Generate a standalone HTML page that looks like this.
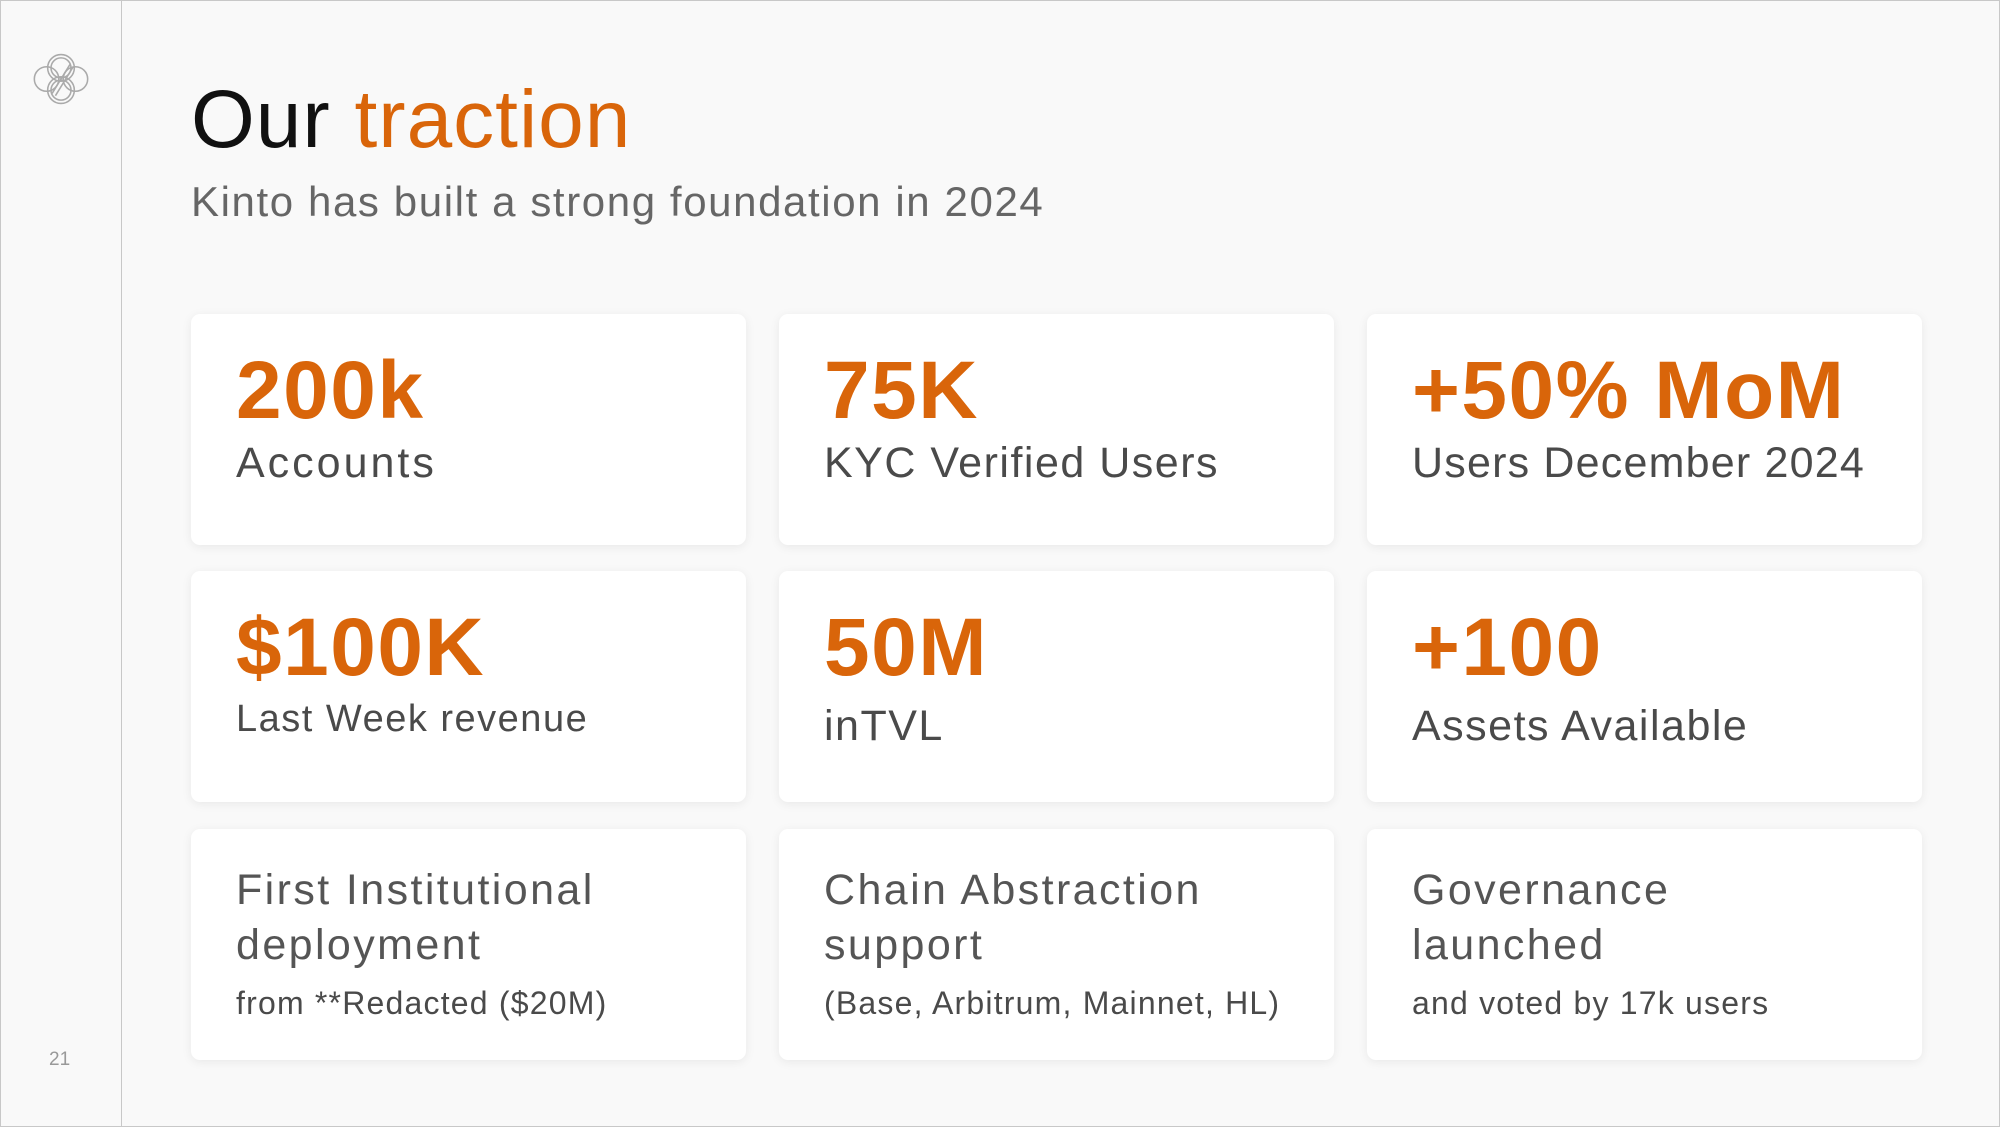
<!DOCTYPE html>
<html><head><meta charset="utf-8"><style>
html,body{margin:0;padding:0}
body{width:2000px;height:1127px;background:#f9f9f9;position:relative;overflow:hidden;font-family:"Liberation Sans",sans-serif}
.frame{position:absolute;left:0;top:0;width:1998px;height:1125px;border:1px solid #c8c8c8}
.side{position:absolute;left:121px;top:0;width:1px;height:1127px;background:#c8c8c8}
.pn{position:absolute;left:49px;top:1049px;font-size:19px;color:#999}
.title{position:absolute;left:191px;top:73px;font-size:82px;color:#111;white-space:nowrap;letter-spacing:1px}
.title span{color:#d9650a}
.sub{position:absolute;left:191px;top:178px;font-size:42px;color:#666;white-space:nowrap;letter-spacing:1.6px}
.card{position:absolute;width:555px;height:231px;background:#fff;border-radius:9px;box-shadow:0 2px 10px rgba(0,0,0,0.07)}
.num{position:absolute;left:45px;top:30px;font-size:82px;font-weight:bold;color:#d9650a;white-space:nowrap;letter-spacing:1.5px}
.lab{position:absolute;left:45px;top:125px;font-size:43px;color:#4a4a4a;letter-spacing:1.5px;white-space:nowrap}
.h{position:absolute;left:45px;top:34px;font-size:43px;line-height:55px;color:#555;letter-spacing:2.4px}
.s{position:absolute;left:45px;top:156px;font-size:32px;color:#4a4a4a;letter-spacing:1.2px;white-space:nowrap}
</style></head><body>
<div class="frame"></div>
<div class="side"></div>
<svg style="position:absolute;left:31px;top:49px" width="60" height="60" viewBox="0 0 54 54" fill="none" stroke="#aaa" stroke-width="1.4">
<circle cx="27" cy="17" r="12"/><circle cx="27" cy="17" r="9"/>
<circle cx="27" cy="37" r="12"/><circle cx="27" cy="37" r="9"/>
<circle cx="14" cy="27" r="11"/><circle cx="40" cy="27" r="11"/>
<path d="M19 40 L35 14 M22 42 L38 16"/>
</svg>
<div class="pn">21</div>
<div class="title">Our <span>traction</span></div>
<div class="sub">Kinto has built a strong foundation in 2024</div>

<div class="card" style="left:191px;top:314px"><div class="num">200k</div><div class="lab" style="letter-spacing:3px">Accounts</div></div>
<div class="card" style="left:779px;top:314px"><div class="num">75K</div><div class="lab">KYC Verified Users</div></div>
<div class="card" style="left:1367px;top:314px"><div class="num">+50% MoM</div><div class="lab" style="letter-spacing:1.2px">Users December 2024</div></div>

<div class="card" style="left:191px;top:571px"><div class="num">$100K</div><div class="lab" style="font-size:38px;top:127px">Last Week revenue</div></div>
<div class="card" style="left:779px;top:571px"><div class="num">50M</div><div class="lab" style="top:131px">inTVL</div></div>
<div class="card" style="left:1367px;top:571px"><div class="num">+100</div><div class="lab" style="top:131px">Assets Available</div></div>

<div class="card" style="left:191px;top:829px"><div class="h">First Institutional<br>deployment</div><div class="s">from **Redacted ($20M)</div></div>
<div class="card" style="left:779px;top:829px"><div class="h">Chain Abstraction<br>support</div><div class="s">(Base, Arbitrum, Mainnet, HL)</div></div>
<div class="card" style="left:1367px;top:829px"><div class="h">Governance<br>launched</div><div class="s">and voted by 17k users</div></div>
</body></html>
